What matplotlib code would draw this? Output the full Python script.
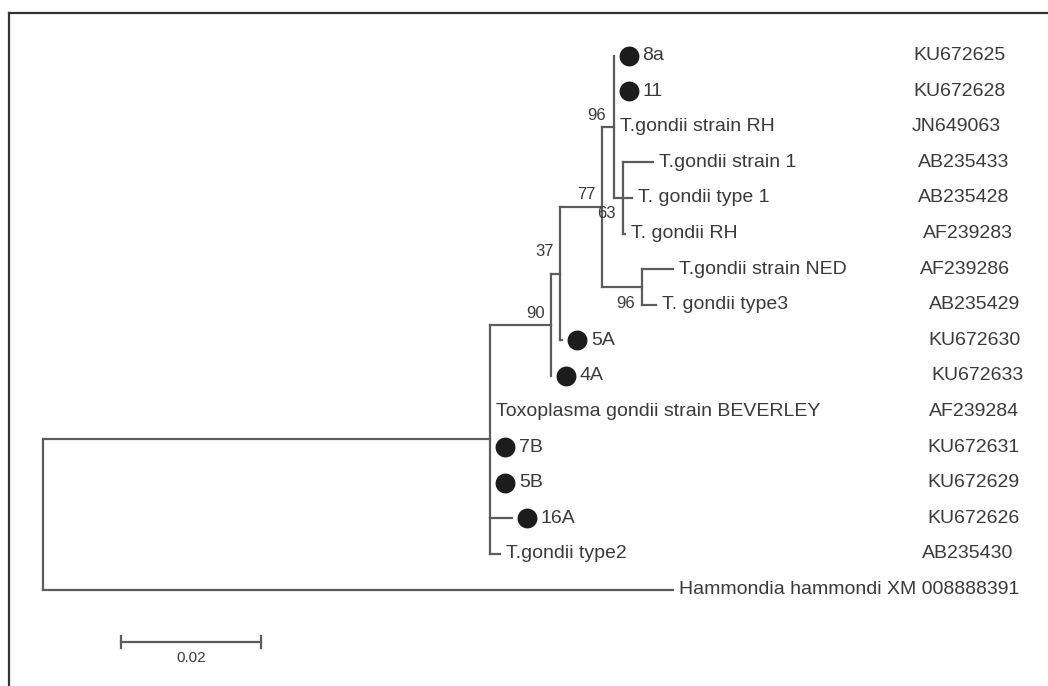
import matplotlib
matplotlib.use("Agg")
import matplotlib.pyplot as plt

# ---------------- data ----------------
internal_nodes = ["root", "Tg", "n90", "n37", "n77", "n96a", "n63", "n96b"]
internal_parent = [None, "root", "Tg", "n90", "n37", "n77", "n96a", "n77"]
internal_length = [0.0, 0.0639, 0.0086, 0.0014, 0.0060, 0.0016, 0.0013, 0.0057]
internal_bootstrap = [None, None, 90, 37, 77, 96, 63, 96]

leaf_labels = ["8a", "11", "T.gondii strain RH", "T.gondii strain 1", "T. gondii type 1",
               "T. gondii RH", "T.gondii strain NED", "T. gondii type3", "5A", "4A",
               "Toxoplasma gondii strain BEVERLEY", "7B", "5B", "16A", "T.gondii type2",
               "Hammondia hammondi XM 008888391"]
leaf_accession = ["KU672625", "KU672628", "JN649063", "AB235433", "AB235428", "AF239283",
                  "AF239286", "AB235429", "KU672630", "KU672633", "AF239284", "KU672631",
                  "KU672629", "KU672626", "AB235430", ""]
leaf_parent = ["n96a", "n96a", "n96a", "n63", "n63", "n63", "n96b", "n96b", "n37", "n90",
               "Tg", "Tg", "Tg", "Tg", "Tg", "root"]
leaf_length = [0.0, 0.0, 0.0, 0.0044, 0.0014, 0.0004, 0.0044, 0.0019, 0.0003, 0.0,
               0.0, 0.0, 0.0, 0.0031, 0.0014, 0.0900]
leaf_marked = [True, True, False, False, False, False, False, False, True, True,
               False, True, True, True, False, False]
scale_value = 0.02
scale_label = "0.02"

# ---------------- layout (pixels) ----------------
W, H = 1048, 686
X0, PXU = 43, 7000.0        # root x pixel, pixels per unit substitution
Y0, ROW = 55.5, 35.6        # first row pixel, row spacing
acc_px = [913, 913, 912, 918, 918, 923, 920, 929, 928, 931, 929, 927, 927, 927, 922, 0]
boot_off = {"n90": (-6, -11), "n37": (-6, -22), "n77": (-7, -12),
            "n96a": (-8, -11), "n63": (-7, 16), "n96b": (-7, 17)}

def dx(p):
    return p / PXU

def dy(p):
    return p / ROW

LINE_C = "#5c5c5c"
TEXT_C = "#3a3a3a"
LW = 1.6
FS = 14
FAMILY = ["Liberation Sans", "DejaVu Sans"]

# ---------------- build tree ----------------
children = {n: [] for n in internal_nodes}
length = {}
for n, p, l in zip(internal_nodes, internal_parent, internal_length):
    length[n] = l
    if p is not None:
        children[p].append(n)
for i, (p, l) in enumerate(zip(leaf_parent, leaf_length)):
    key = ("leaf", i)
    length[key] = l
    children[p].append(key)

xpos, ypos = {}, {}

def layout(node, x):
    xpos[node] = x
    if isinstance(node, tuple):
        ypos[node] = node[1]
        return ypos[node]
    ys = [layout(c, x + length[c]) for c in children[node]]
    ypos[node] = (min(ys) + max(ys)) / 2.0
    return ypos[node]

layout("root", 0.0)

fig = plt.figure(figsize=(W / 100, H / 100), dpi=100)
ax = fig.add_axes([0, 0, 1, 1])
ax.set_xlim(-X0 / PXU, (W - X0) / PXU)
ax.set_ylim((H - Y0) / ROW, -Y0 / ROW)
ax.axis("off")

# branches
for n in internal_nodes:
    ch = children[n]
    ys = [ypos[c] for c in ch]
    ax.plot([xpos[n], xpos[n]], [min(ys), max(ys)], color=LINE_C, lw=LW,
            solid_capstyle="projecting")
    for c in ch:
        if length[c] > 0:
            ax.plot([xpos[n], xpos[c]], [ypos[c], ypos[c]], color=LINE_C, lw=LW,
                    solid_capstyle="projecting")

# leaves
for i, lab in enumerate(leaf_labels):
    key = ("leaf", i)
    x, y = xpos[key], ypos[key]
    if leaf_marked[i]:
        ax.scatter([x + dx(15)], [y], s=205, color="#1c1c1c", zorder=3, linewidths=0)
        tx = x + dx(29)
    else:
        tx = x + dx(6)
    ax.text(tx, y, lab, fontsize=FS, family=FAMILY, color=TEXT_C, va="center", ha="left")
    if leaf_accession[i]:
        ax.text((acc_px[i] - X0) / PXU, y, leaf_accession[i], fontsize=FS, family=FAMILY,
                color=TEXT_C, va="center", ha="left")

# bootstrap values
for n, b in zip(internal_nodes, internal_bootstrap):
    if b is None:
        continue
    ox, oy = boot_off[n]
    ax.text(xpos[n] + dx(ox), ypos[n] + dy(oy), str(b), fontsize=12, family=FAMILY,
            color=TEXT_C, va="center", ha="right")

# scale bar
sb_x0 = dx(121 - X0)
sb_y = dy(642 - Y0)
ax.plot([sb_x0, sb_x0 + scale_value], [sb_y, sb_y], color=LINE_C, lw=LW)
for xx in (sb_x0, sb_x0 + scale_value):
    ax.plot([xx, xx], [sb_y - dy(6), sb_y + dy(6)], color=LINE_C, lw=LW)
ax.text(sb_x0 + scale_value / 2, sb_y + dy(16), scale_label, fontsize=11, family=FAMILY,
        color=TEXT_C, ha="center", va="center")

# frame (top and left only)
fl, ft = 9 / W, 1 - 13 / H
ax.plot([fl, fl], [0, ft], transform=ax.transAxes, color="#333333", lw=1.6, clip_on=False)
ax.plot([fl, 1], [ft, ft], transform=ax.transAxes, color="#333333", lw=1.6, clip_on=False)

fig.savefig("out.png", dpi=100)
